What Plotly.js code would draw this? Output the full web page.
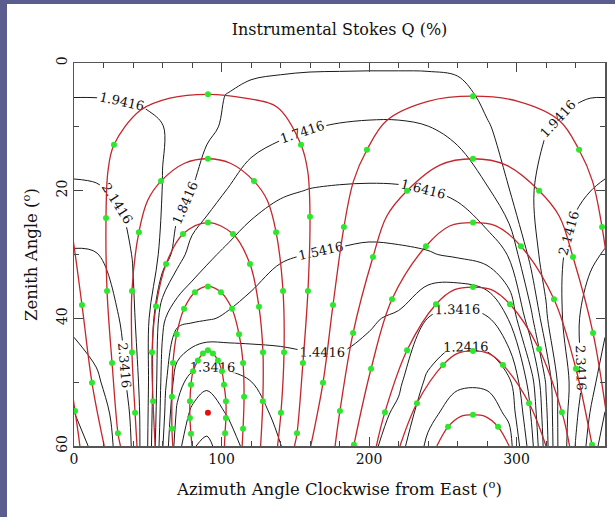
<!DOCTYPE html>
<html>
<head>
<meta charset="utf-8">
<script src="https://cdn.plot.ly/plotly-3.0.1.min.js"></script>
<style>
  html, body { margin: 0; padding: 0; background: #5a5d8e; width: 615px; height: 517px; overflow: hidden; }
  #chart { position: absolute; left: 7px; top: 4px; width: 608px; height: 513px; background: #fff; }
</style>
</head>
<body>
<div id="chart"></div>
<script>
// Instrumental Stokes Q (%) sampled on an azimuth / zenith-angle grid
const azGrid  = [0, 15, 30, 40, 50, 60, 70, 80, 90, 105, 120, 140, 160, 180, 200, 220, 240, 260, 280, 295, 310, 320, 330, 340, 350, 360];
const zenGrid = [0, 5, 10, 20, 30, 40, 50, 55, 60];

const q_z00 = [1.86, 1.86, 1.86, 1.86, 1.86, 1.86, 1.86, 1.86, 1.86, 1.86, 1.86, 1.86, 1.86, 1.86, 1.86, 1.86, 1.86, 1.86, 1.86, 1.86, 1.86, 1.86, 1.86, 1.86, 1.86, 1.86];
const q_z05 = [1.935, 1.935, 1.93, 1.925, 1.915, 1.895, 1.875, 1.86, 1.85, 1.84, 1.825, 1.81, 1.795, 1.79, 1.785, 1.785, 1.79, 1.815, 1.86, 1.88, 1.895, 1.905, 1.915, 1.925, 1.935, 1.935];
const q_z10 = [2.015, 2.01, 2.0, 1.99, 1.97, 1.945, 1.91, 1.885, 1.86, 1.825, 1.79, 1.765, 1.745, 1.735, 1.73, 1.73, 1.74, 1.775, 1.835, 1.87, 1.905, 1.935, 1.96, 1.98, 2.0, 2.015];
const q_z20 = [2.17, 2.16, 2.12, 2.06, 2.0, 1.94, 1.885, 1.84, 1.795, 1.735, 1.69, 1.655, 1.638, 1.632, 1.63, 1.632, 1.64, 1.66, 1.73, 1.84, 1.93, 1.99, 2.05, 2.1, 2.14, 2.17];
const q_z30 = [2.36, 2.35, 2.25, 2.13, 2.02, 1.91, 1.79, 1.70, 1.66, 1.62, 1.585, 1.55, 1.54, 1.53, 1.52, 1.525, 1.535, 1.555, 1.585, 1.65, 1.88, 2.0, 2.12, 2.22, 2.3, 2.36];
const q_z40 = [2.50, 2.45, 2.35, 2.17, 1.97, 1.66, 1.57, 1.56, 1.55, 1.53, 1.51, 1.49, 1.465, 1.455, 1.45, 1.43, 1.34, 1.30, 1.33, 1.45, 1.72, 1.92, 2.12, 2.3, 2.45, 2.50];
const q_z50 = [2.64, 2.57, 2.44, 2.25, 1.96, 1.6, 1.38, 1.30, 1.26, 1.30, 1.34, 1.38, 1.42, 1.43, 1.41, 1.36, 1.22, 1.16, 1.16, 1.22, 1.5, 1.75, 2.0, 2.25, 2.48, 2.64];
const q_z55 = [2.75, 2.64, 2.48, 2.3, 1.95, 1.58, 1.32, 1.22, 1.19, 1.25, 1.31, 1.36, 1.41, 1.42, 1.39, 1.32, 1.17, 1.09, 1.09, 1.16, 1.45, 1.72, 2.0, 2.3, 2.55, 2.75];
const q_z60 = [2.85, 2.68, 2.5, 2.32, 1.94, 1.55, 1.28, 1.15, 1.12, 1.2, 1.28, 1.34, 1.4, 1.41, 1.37, 1.28, 1.12, 1.02, 1.02, 1.1, 1.4, 1.7, 2.0, 2.35, 2.62, 2.85];

// Star tracks (azimuth, zenith angle); azimuths above 360 wrap to the left edge
const s1Az  = [31.5, 29.8, 25.8, 22.4, 21.7, 23, 27.1, 45, 65, 90.8, 116, 137.6, 153.9, 158.5, 160, 158.6, 155.2, 151.2, 149.5];
const s1Zen = [60, 58, 47, 35.7, 24.3, 17, 12.8, 7.4, 5.5, 4.9, 5.5, 6.9, 12.8, 17, 24.1, 35.7, 47, 58, 60];
const s2Az  = [42.7, 41.4, 39.3, 39.3, 44, 50, 59, 75, 90.8, 106, 122, 131, 137, 141.7, 142.4, 140.3, 138];
const s2Zen = [60, 54.8, 45.3, 35.7, 26.5, 21.5, 18.5, 15.7, 15, 15.7, 18.5, 21.5, 26.5, 35.7, 45.3, 54.8, 60];
const s3Az  = [55, 53.6, 52.9, 55.6, 62.4, 73.9, 90.8, 107.8, 119.3, 125.4, 128.1, 128, 126.5];
const s3Zen = [60, 53, 45.3, 38.1, 31.5, 26.8, 25, 26.8, 31.5, 38.2, 45.3, 53, 60];
const s4Az  = [67, 66.4, 66.4, 67.1, 69.6, 74.6, 82, 90.8, 99.6, 107.1, 111.9, 114.6, 115.3, 114.6, 114];
const s4Zen = [60, 57.3, 52.3, 47, 42.5, 38.5, 35.9, 35, 35.9, 38.5, 42.5, 47, 52.3, 57.3, 60];
const s5Az  = [80, 79.3, 78.6, 78.6, 79.3, 80.7, 84, 87.4, 90.8, 94.2, 97.6, 100.3, 101.7, 103, 103, 102.4, 102];
const s5Zen = [60, 58.1, 55.6, 53, 50.4, 48.3, 46.6, 45.5, 45, 45.5, 46.6, 48.3, 50.4, 53, 55.6, 58, 60];

const n1Az  = [160.5, 168.8, 175.6, 183, 189.5, 198.6, 212, 240, 270.5, 301, 329, 342.4, 351.5, 358, 365.4, 372.2, 380.5];
const n1Zen = [60, 50.1, 37.9, 25.7, 18.5, 13.6, 9, 6, 5.2, 6, 9, 13.6, 18.5, 25.7, 37.9, 50.1, 60];
const n2Az  = [177, 180.3, 189.2, 202.7, 212, 225.8, 248, 270.5, 293, 315.3, 329, 338.3, 351.9, 360.7, 364];
const n2Zen = [60, 54.5, 42.3, 30.4, 24, 20, 16, 15, 16, 20, 24, 30.4, 42.3, 54.5, 60];
const n3Az  = [188.8, 189.8, 201.4, 215.6, 238.6, 255, 270.5, 286, 303, 325.4, 340.3, 351.2, 352.2];
const n3Zen = [61, 59.8, 47.9, 37, 28.7, 25.5, 25, 25.5, 28.7, 37, 47.9, 59.8, 61];
const n4Az  = [205, 210.8, 225.8, 245.4, 258, 270.5, 283, 295.6, 315.3, 330.8, 336];
const n4Zen = [60, 54.7, 45, 37.8, 35.5, 35.1, 35.5, 37.8, 44.8, 54.7, 60];
const n5Az  = [221, 232.5, 250.2, 260, 270.5, 281, 290.8, 308.5, 320];
const n5Zen = [60, 53.3, 47.3, 45.5, 45.1, 45.5, 47.3, 53.3, 60];
const n6Az  = [246, 253.6, 262, 270.5, 279, 287.5, 295];
const n6Zen = [60, 57, 55.4, 55.1, 55.4, 57, 60];

// Hourly positions marked along the tracks
const dotAz = [
  90.8, 27.1, 153.9, 21.7, 160, 22.4, 158.6, 25.8, 155.2, 29.8, 151.2,
  90.8, 59, 122, 44, 137, 39.3, 141.7, 39.3, 142.4, 41.4, 140.3,
  90.8, 73.9, 107.8, 62.4, 119.3, 55.6, 125.4, 52.9, 128.1, 53.6, 128,
  90.8, 82, 99.6, 74.6, 107.1, 69.6, 111.9, 67.1, 114.6, 66.4, 115.3, 66.4, 114.6,
  90.8, 87.4, 94.2, 84, 97.6, 80.7, 100.3, 79.3, 101.7, 78.6, 103, 78.6, 103, 79.3, 102.4,
  270.5, 198.6, 342.4, 183, 358, 175.6, 5.4, 168.8, 12.2,
  270.5, 225.8, 315.3, 202.7, 338.3, 189.2, 351.9, 180.3, 0.7,
  270.5, 238.6, 303, 215.6, 325.4, 201.4, 340.3, 189.8, 351.2,
  270.5, 245.4, 295.6, 225.8, 315.3, 210.8, 330.8,
  270.5, 250.2, 290.8, 232.5, 308.5,
  270.5, 253.6, 287.5
];
const dotZen = [
  4.9, 12.8, 12.8, 24.3, 24.1, 35.7, 35.7, 47, 47, 58, 58,
  15, 18.5, 18.5, 26.5, 26.5, 35.7, 35.7, 45.3, 45.3, 54.8, 54.8,
  25, 26.8, 26.8, 31.5, 31.5, 38.1, 38.2, 45.3, 45.3, 53, 53,
  35, 35.9, 35.9, 38.5, 38.5, 42.5, 42.5, 47, 47, 52.3, 52.3, 57.3, 57.3,
  45, 45.5, 45.5, 46.6, 46.6, 48.3, 48.3, 50.4, 50.4, 53, 53, 55.6, 55.6, 58.1, 58,
  5.2, 13.6, 13.6, 25.7, 25.7, 37.9, 37.9, 50.1, 50.1,
  15, 20, 20, 30.4, 30.4, 42.3, 42.3, 54.5, 54.5,
  25, 28.7, 28.7, 37, 37, 47.9, 47.9, 59.8, 59.8,
  35.1, 37.8, 37.8, 45, 44.8, 54.7, 54.7,
  45.1, 47.3, 47.3, 53.3, 53.3,
  55.1, 57, 57
];
const redDotAz = [90.8];
const redDotZen = [54.8];

const FONT = 'DejaVu Serif';
const qGrid = [q_z00, q_z05, q_z10, q_z20, q_z30, q_z40, q_z50, q_z55, q_z60];

function contourTrace(start, end, size) {
  return {
    type: 'contour', x: azGrid, y: zenGrid, z: qGrid,
    autocontour: false, showscale: false, hoverinfo: 'skip',
    contours: { coloring: 'none', start: start, end: end, size: size, showlabels: true,
                labelformat: '.4f', labelfont: { family: FONT, size: 13, color: '#111' } },
    line: { color: '#1a1a1a', width: 1, smoothing: 1 }
  };
}

const traces = [contourTrace(1.1416, 1.9416, 0.1), contourTrace(2.1416, 2.9416, 0.2)];

const tracks = [[s1Az, s1Zen], [s2Az, s2Zen], [s3Az, s3Zen], [s4Az, s4Zen], [s5Az, s5Zen],
                [n1Az, n1Zen], [n2Az, n2Zen], [n3Az, n3Zen], [n4Az, n4Zen], [n5Az, n5Zen], [n6Az, n6Zen]];
tracks.forEach(([az, zen]) => {
  const line = { color: '#c4262b', width: 1.3, shape: 'spline', smoothing: 1 };
  traces.push({ type: 'scatter', mode: 'lines', x: az, y: zen, line: line, hoverinfo: 'skip' });
  if (Math.max(...az) > 360) {
    traces.push({ type: 'scatter', mode: 'lines', x: az.map(a => a - 360), y: zen, line: line, hoverinfo: 'skip' });
  }
});

traces.push({ type: 'scatter', mode: 'markers', x: dotAz, y: dotZen, hoverinfo: 'skip',
              marker: { color: '#2ee62e', size: 6, symbol: 'circle' } });
traces.push({ type: 'scatter', mode: 'markers', x: redDotAz, y: redDotZen, hoverinfo: 'skip',
              marker: { color: '#e01010', size: 6, symbol: 'circle' } });

const axisCommon = {
  ticks: 'inside', ticklen: 9, tickwidth: 1, tickcolor: '#444',
  showline: true, linecolor: '#555', linewidth: 1.5, mirror: 'allticks',
  showgrid: false, zeroline: false,
  tickfont: { family: FONT, size: 14, color: '#111' }
};

const layout = {
  width: 608, height: 513,
  margin: { l: 67, r: 10, t: 59, b: 71 },
  paper_bgcolor: '#ffffff', plot_bgcolor: '#ffffff',
  showlegend: false,
  font: { family: FONT, size: 14, color: '#111' },
  title: { text: 'Instrumental Stokes Q (%)', x: 0.5, xref: 'paper', xanchor: 'center',
           y: 1 - 25 / 513, yref: 'container', yanchor: 'middle',
           font: { family: FONT, size: 16, color: '#111' } },
  xaxis: Object.assign({}, axisCommon, {
    range: [0, 360], tickmode: 'linear', tick0: 0, dtick: 100,
    minor: { tickmode: 'linear', tick0: 0, dtick: 20, ticks: 'inside', ticklen: 5, tickcolor: '#444' },
    title: { text: 'Azimuth Angle Clockwise from East (<sup>o</sup>)', font: { family: FONT, size: 16.5, color: '#111' }, standoff: 17 }
  }),
  yaxis: Object.assign({}, axisCommon, {
    range: [60, 0], tickmode: 'linear', tick0: 0, dtick: 20, tickangle: -90,
    minor: { tickmode: 'linear', tick0: 0, dtick: 10, ticks: 'inside', ticklen: 5, tickcolor: '#444' },
    title: { text: 'Zenith Angle (<sup>o</sup>)', font: { family: FONT, size: 16.5, color: '#111' }, standoff: 12 }
  })
};

Plotly.newPlot('chart', traces, layout, { staticPlot: true, displayModeBar: false });
</script>
</body>
</html>
